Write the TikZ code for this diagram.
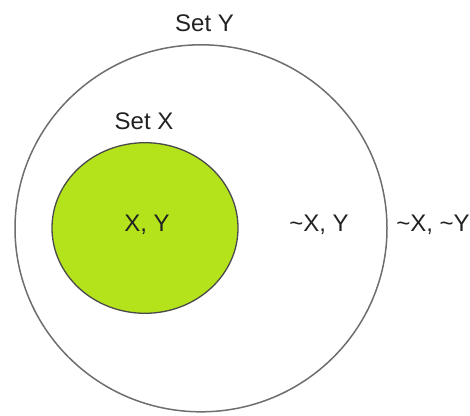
\documentclass[tikz,border=0pt]{standalone}
\usepackage{fontspec}
\setmainfont{Liberation Sans}
\definecolor{setgreen}{HTML}{B4E31C}
\definecolor{txtgray}{HTML}{222222}
\definecolor{outergray}{HTML}{6E6E6E}
\definecolor{innergray}{HTML}{4A4A4A}
\begin{document}
\begin{tikzpicture}[x=1pt,y=-1pt,
  lbl/.style={font=\fontsize{24}{27}\selectfont, text=txtgray, inner sep=0pt, anchor=center},
  outerset/.style={draw=outergray, line width=1.5pt},
  innerset/.style={draw=innergray, line width=1.3pt, fill=setgreen}]
\useasboundingbox (0,0) rectangle (470,415);
\draw[outerset] (201,228.3) ellipse [x radius=186, y radius=183.5];
\draw[innerset] (145,228) ellipse [x radius=93, y radius=85.3];
\node[lbl] (sety) at (204.5,23.5) {Set Y};
\node[lbl] (setx) at (144,121.5) {Set X};
\node[lbl] (xy) at (147,224.5) {X, Y};
\node[lbl] (nxy) at (319,224.5) {\textasciitilde X, Y};
\node[lbl] (nxny) at (433,224.5) {\textasciitilde X, \textasciitilde Y};
\end{tikzpicture}
\end{document}
